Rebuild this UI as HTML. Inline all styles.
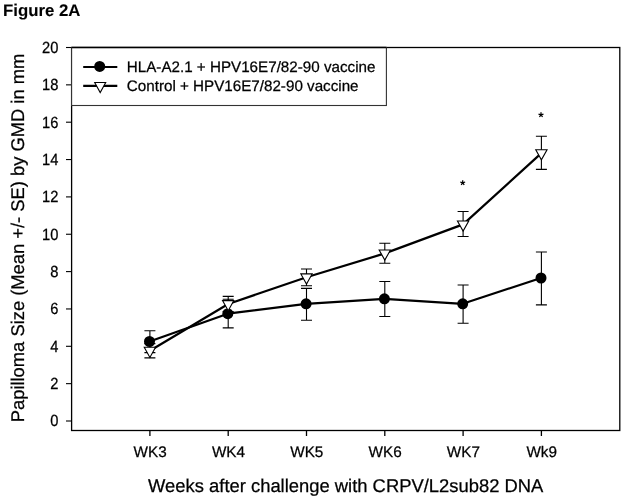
<!DOCTYPE html>
<html><head><meta charset="utf-8"><style>
html,body{margin:0;padding:0;background:#fff;}
body{width:625px;height:499px;overflow:hidden;}
svg{display:block;will-change:transform;}
text{font-family:"Liberation Sans",sans-serif;fill:#000;stroke:#000;stroke-width:0.25px;text-rendering:geometricPrecision;}
.tb{stroke-width:0.1px;}
.t15{font-size:15.3px;}
.t13{font-size:15.2px;}
.t18{font-size:18.4px;}
.tb{font-size:16.8px;font-weight:bold;}
</style></head><body>
<svg width="625" height="499" viewBox="0 0 625 499">
<rect x="71.6" y="47.5" width="548.2" height="383" fill="none" stroke="#000" stroke-width="1.3"/>
<line x1="66" y1="421.00" x2="71.6" y2="421.00" stroke="#000" stroke-width="1.1"/>
<text transform="translate(58.3,426.35) scale(0.96,1.06)" text-anchor="end" class="t15">0</text>
<line x1="66" y1="383.65" x2="71.6" y2="383.65" stroke="#000" stroke-width="1.1"/>
<text transform="translate(58.3,389.00) scale(0.96,1.06)" text-anchor="end" class="t15">2</text>
<line x1="66" y1="346.30" x2="71.6" y2="346.30" stroke="#000" stroke-width="1.1"/>
<text transform="translate(58.3,351.65) scale(0.96,1.06)" text-anchor="end" class="t15">4</text>
<line x1="66" y1="308.95" x2="71.6" y2="308.95" stroke="#000" stroke-width="1.1"/>
<text transform="translate(58.3,314.30) scale(0.96,1.06)" text-anchor="end" class="t15">6</text>
<line x1="66" y1="271.60" x2="71.6" y2="271.60" stroke="#000" stroke-width="1.1"/>
<text transform="translate(58.3,276.95) scale(0.96,1.06)" text-anchor="end" class="t15">8</text>
<line x1="66" y1="234.25" x2="71.6" y2="234.25" stroke="#000" stroke-width="1.1"/>
<text transform="translate(58.3,239.60) scale(0.96,1.06)" text-anchor="end" class="t15">10</text>
<line x1="66" y1="196.90" x2="71.6" y2="196.90" stroke="#000" stroke-width="1.1"/>
<text transform="translate(58.3,202.25) scale(0.96,1.06)" text-anchor="end" class="t15">12</text>
<line x1="66" y1="159.55" x2="71.6" y2="159.55" stroke="#000" stroke-width="1.1"/>
<text transform="translate(58.3,164.90) scale(0.96,1.06)" text-anchor="end" class="t15">14</text>
<line x1="66" y1="122.20" x2="71.6" y2="122.20" stroke="#000" stroke-width="1.1"/>
<text transform="translate(58.3,127.55) scale(0.96,1.06)" text-anchor="end" class="t15">16</text>
<line x1="66" y1="84.85" x2="71.6" y2="84.85" stroke="#000" stroke-width="1.1"/>
<text transform="translate(58.3,90.20) scale(0.96,1.06)" text-anchor="end" class="t15">18</text>
<line x1="66" y1="47.50" x2="71.6" y2="47.50" stroke="#000" stroke-width="1.1"/>
<text transform="translate(58.3,52.85) scale(0.96,1.06)" text-anchor="end" class="t15">20</text>
<line x1="149.90" y1="430.5" x2="149.90" y2="436" stroke="#000" stroke-width="1.3"/>
<text transform="translate(150.20,457.4) scale(1,1.0)" text-anchor="middle" class="t15">WK3</text>
<line x1="228.20" y1="430.5" x2="228.20" y2="436" stroke="#000" stroke-width="1.3"/>
<text transform="translate(228.50,457.4) scale(1,1.0)" text-anchor="middle" class="t15">WK4</text>
<line x1="306.50" y1="430.5" x2="306.50" y2="436" stroke="#000" stroke-width="1.3"/>
<text transform="translate(306.80,457.4) scale(1,1.0)" text-anchor="middle" class="t15">WK5</text>
<line x1="384.80" y1="430.5" x2="384.80" y2="436" stroke="#000" stroke-width="1.3"/>
<text transform="translate(385.10,457.4) scale(1,1.0)" text-anchor="middle" class="t15">WK6</text>
<line x1="463.10" y1="430.5" x2="463.10" y2="436" stroke="#000" stroke-width="1.3"/>
<text transform="translate(463.40,457.4) scale(1,1.0)" text-anchor="middle" class="t15">WK7</text>
<line x1="541.40" y1="430.5" x2="541.40" y2="436" stroke="#000" stroke-width="1.3"/>
<text transform="translate(541.70,457.4) scale(1,1.0)" text-anchor="middle" class="t15">Wk9</text>
<text x="345.7" y="491.6" text-anchor="middle" class="t18">Weeks after challenge with CRPV/L2sub82 DNA</text>
<text transform="translate(23.8,238.0) rotate(-90)" text-anchor="middle" class="t18" style="font-size:18.35px">Papilloma Size (Mean +/- SE) by GMD in mm</text>
<text x="3.0" y="16.0" class="tb">Figure 2A</text>
<rect x="71.6" y="47.5" width="314.8" height="58" fill="#fff" stroke="#333" stroke-width="1.1"/>
<line x1="71.6" y1="47.5" x2="386.4" y2="47.5" stroke="#000" stroke-width="1.3"/>
<line x1="83.2" y1="67" x2="117.3" y2="67" stroke="#000" stroke-width="2.2"/>
<circle cx="99.7" cy="66.4" r="5.5" fill="#000"/>
<line x1="83.2" y1="85.9" x2="117.3" y2="85.9" stroke="#000" stroke-width="2.2"/>
<path d="M94.70,82.50 L105.70,82.50 L100.20,92.60 Z" fill="#fff" stroke="#000" stroke-width="1.1"/>
<text x="126.8" y="71.9" class="t13">HLA-A2.1 + HPV16E7/82-90 vaccine</text>
<text x="126.8" y="91.0" class="t13">Control + HPV16E7/82-90 vaccine</text>
<path d="M149.90,330.70 V352.60 M144.40,330.70 H155.40 M144.40,352.60 H155.40" stroke="#000" stroke-width="1.1" fill="none"/>
<path d="M228.20,299.20 V327.90 M222.70,299.20 H233.70 M222.70,327.90 H233.70" stroke="#000" stroke-width="1.1" fill="none"/>
<path d="M306.50,288.40 V320.30 M301.00,288.40 H312.00 M301.00,320.30 H312.00" stroke="#000" stroke-width="1.1" fill="none"/>
<path d="M384.80,281.50 V316.50 M379.30,281.50 H390.30 M379.30,316.50 H390.30" stroke="#000" stroke-width="1.1" fill="none"/>
<path d="M463.10,285.00 V323.30 M457.60,285.00 H468.60 M457.60,323.30 H468.60" stroke="#000" stroke-width="1.1" fill="none"/>
<path d="M541.40,252.00 V304.90 M535.90,252.00 H546.90 M535.90,304.90 H546.90" stroke="#000" stroke-width="1.1" fill="none"/>
<path d="M149.90,343.60 V357.90 M144.40,343.60 H155.40 M144.40,357.90 H155.40" stroke="#000" stroke-width="1.1" fill="none"/>
<path d="M228.20,296.40 V311.60 M222.70,296.40 H233.70 M222.70,311.60 H233.70" stroke="#000" stroke-width="1.1" fill="none"/>
<path d="M306.50,269.00 V285.70 M301.00,269.00 H312.00 M301.00,285.70 H312.00" stroke="#000" stroke-width="1.1" fill="none"/>
<path d="M384.80,243.30 V263.20 M379.30,243.30 H390.30 M379.30,263.20 H390.30" stroke="#000" stroke-width="1.1" fill="none"/>
<path d="M463.10,211.50 V236.50 M457.60,211.50 H468.60 M457.60,236.50 H468.60" stroke="#000" stroke-width="1.1" fill="none"/>
<path d="M541.40,136.30 V169.40 M535.90,136.30 H546.90 M535.90,169.40 H546.90" stroke="#000" stroke-width="1.1" fill="none"/>
<polyline points="149.50,341.50 227.80,313.70 306.10,303.80 384.40,298.80 462.70,303.80 541.00,278.00" fill="none" stroke="#000" stroke-width="2.2" stroke-linejoin="round"/>
<polyline points="149.90,350.70 228.20,304.00 306.50,277.30 384.80,253.40 463.10,224.40 541.40,153.10" fill="none" stroke="#000" stroke-width="2.2" stroke-linejoin="round"/>
<circle cx="149.50" cy="341.50" r="5.5" fill="#000"/>
<circle cx="227.80" cy="313.70" r="5.5" fill="#000"/>
<circle cx="306.10" cy="303.80" r="5.5" fill="#000"/>
<circle cx="384.40" cy="298.80" r="5.5" fill="#000"/>
<circle cx="462.70" cy="303.80" r="5.5" fill="#000"/>
<circle cx="541.00" cy="278.00" r="5.5" fill="#000"/>
<path d="M144.25,347.30 L155.55,347.30 L149.90,357.40 Z" fill="#fff" stroke="#000" stroke-width="1.1"/>
<path d="M222.55,300.60 L233.85,300.60 L228.20,310.70 Z" fill="#fff" stroke="#000" stroke-width="1.1"/>
<path d="M300.85,273.90 L312.15,273.90 L306.50,284.00 Z" fill="#fff" stroke="#000" stroke-width="1.1"/>
<path d="M379.15,250.00 L390.45,250.00 L384.80,260.10 Z" fill="#fff" stroke="#000" stroke-width="1.1"/>
<path d="M457.45,221.00 L468.75,221.00 L463.10,231.10 Z" fill="#fff" stroke="#000" stroke-width="1.1"/>
<path d="M535.75,149.70 L547.05,149.70 L541.40,159.80 Z" fill="#fff" stroke="#000" stroke-width="1.1"/>
<path d="M462.70,182.80 L462.70,180.20 M462.70,182.80 L465.17,182.00 M462.70,182.80 L464.23,184.90 M462.70,182.80 L461.17,184.90 M462.70,182.80 L460.23,182.00 " stroke="#000" stroke-width="1.25" fill="none"/>
<path d="M541.00,114.90 L541.00,112.30 M541.00,114.90 L543.47,114.10 M541.00,114.90 L542.53,117.00 M541.00,114.90 L539.47,117.00 M541.00,114.90 L538.53,114.10 " stroke="#000" stroke-width="1.25" fill="none"/>
</svg>
</body></html>
